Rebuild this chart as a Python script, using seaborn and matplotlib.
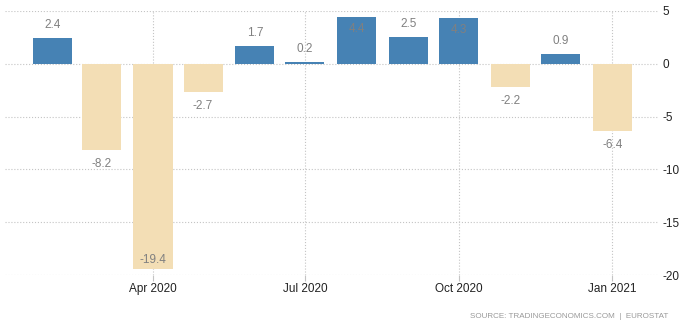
import matplotlib
matplotlib.use('Agg')
import matplotlib.pyplot as plt
import matplotlib.dates as mdates
import seaborn as sns
import pandas as pd
import numpy as np

# Data
months = ['2020-02-01', '2020-03-01', '2020-04-01', '2020-05-01', '2020-06-01', '2020-07-01',
          '2020-08-01', '2020-09-01', '2020-10-01', '2020-11-01', '2020-12-01', '2021-01-01']
values = [2.4, -8.2, -19.4, -2.7, 1.7, 0.2, 4.4, 2.5, 4.3, -2.2, 0.9, -6.4]
tick_dates = ['2020-04-01', '2020-07-01', '2020-10-01', '2021-01-01']
tick_labels = ['Apr 2020', 'Jul 2020', 'Oct 2020', 'Jan 2021']
y_ticks = [5, 0, -5, -10, -15, -20]
source_text = 'SOURCE: TRADINGECONOMICS.COM  |  EUROSTAT'

sns.set_theme(style='white')
plt.rcParams['font.family'] = ['Liberation Sans', 'DejaVu Sans']

df = pd.DataFrame({'x': mdates.date2num(pd.to_datetime(months)), 'value': values})
df['sign'] = np.where(df['value'] >= 0, 'pos', 'neg')

fig = plt.figure(figsize=(6.86, 3.28), dpi=100)
ax = fig.add_axes([5 / 686, 53 / 328, 653 / 686, 264 / 328])

sns.barplot(data=df, x='x', y='value', hue='sign',
            palette={'pos': '#4682b4', 'neg': '#f3deb5'},
            native_scale=True, dodge=False, width=0.807, legend=False,
            saturation=1, linewidth=0, ax=ax)

x0 = mdates.date2num(pd.Timestamp('2020-04-01')) - 88.6
x1 = mdates.date2num(pd.Timestamp('2021-01-01')) + 27.4
ax.set_xlim(x0, x1)
ax.set_ylim(-20, 5)

ax.set_xticks(mdates.date2num(pd.to_datetime(tick_dates)))
ax.set_xticklabels(tick_labels)
ax.set_yticks(y_ticks)
ax.set_yticklabels([str(t) for t in y_ticks])
ax.yaxis.tick_right()

ax.grid(True, axis='both', linestyle=':', color='#c4c4c4', linewidth=0.8)
ax.set_axisbelow(True)
for s in ax.spines.values():
    s.set_visible(False)

ax.tick_params(axis='y', length=0, pad=3.5, labelsize=8.5, labelcolor='#222222')
ax.tick_params(axis='x', length=4, width=0.8, color='#c4c4c4', pad=1.5,
               labelsize=8.5, labelcolor='#222222', bottom=True)
ax.set_xlabel('')
ax.set_ylabel('')

for x, v in zip(df['x'], df['value']):
    if v > 0:
        off = 13 if v <= 3.3 else -12
    else:
        off = -14 if v >= -18 else 9
    ax.annotate(f'{v:.1f}', (x, v), xytext=(0, off), textcoords='offset pixels',
                ha='center', va='center', color='#808080', fontsize=8.5)

fig.text(668 / 686, 11 / 328, source_text, ha='right', va='center',
         fontsize=5.8, color='#999999')

fig.savefig('out.png', dpi=100)
